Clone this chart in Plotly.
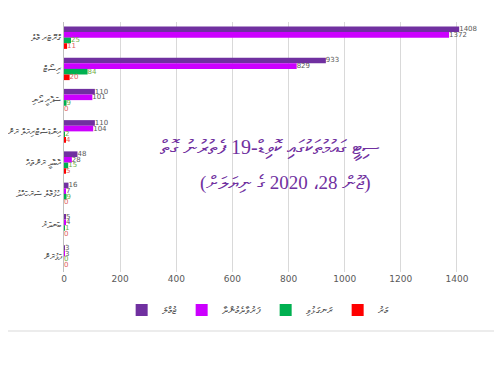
import plotly.graph_objects as go

categories = ["ގްރޭޓަރ މާލެ", "ރިސޯޓް", "ސަފާރީ ދޯނި", "އިންޑަސްޓްރިއަލް ރަށް", "އާބާދީ ރަށްތައް", "ހުޅުމާލެ ސަރަހައްދު", "ބަނދަރު", "ފަޅުރަށް"]
total = [1408, 933, 110, 110, 48, 16, 5, 3]
active = [1372, 829, 101, 104, 28, 7, 4, 3]
recovered = [25, 84, 9, 2, 15, 9, 1, 0]
deaths = [11, 20, 0, 4, 5, 0, 0, 0]
series_names = ["ޖުމްލަ", "ފަރުވާދެމުންދާ", "ރަނގަޅުވި", "މަރު"]
title_line1 = "ސިޓީ ގައުމުތަކުގައި ކޮވިޑް-19 ފެތުރުނު ގޮތް"
title_line2 = "(ޖޫން 28، 2020 ގެ ނިޔަލަށް)"

colors = ["#7030A0", "#CC00FF", "#00B050", "#FF0000"]
text_colors = ["#595959", "#595959", "#70AD47", "#E06060"]
values = [total, active, recovered, deaths]

fig = go.Figure()
for i in [0, 1, 2, 3]:
    fig.add_trace(go.Bar(
        y=categories, x=values[i], orientation="h", name=series_names[i],
        marker=dict(color=colors[i], line=dict(width=0)),
        text=[str(v) for v in values[i]], textposition="outside",
        constraintext="none",
        textfont=dict(size=7, color=text_colors[i], family="DejaVu Sans"),
        cliponaxis=False,
    ))

fig.update_layout(
    width=494, height=359,
    margin=dict(l=56, r=17, t=14, b=95, autoexpand=False),
    paper_bgcolor="white", plot_bgcolor="white",
    barmode="group", bargap=0.28, bargroupgap=0,
    showlegend=True,
    legend=dict(orientation="h", traceorder="normal", x=0.46, xanchor="center",
                y=-0.152, yanchor="middle", font=dict(size=10, color="#595959"),
                itemwidth=30),
    xaxis=dict(range=[0, 1500], tickvals=[0, 200, 400, 600, 800, 1000, 1200, 1400],
               showgrid=True, gridcolor="#D9D9D9", gridwidth=1, zeroline=False,
               tickfont=dict(size=9, color="#595959", family="DejaVu Sans"),
               showline=False, ticks="", automargin=False),
    yaxis=dict(autorange="reversed", showgrid=False, showline=True, linecolor="#BFBFBF",
               tickfont=dict(size=9, color="#595959"), ticks="", automargin=False),
    annotations=[
        dict(text=title_line1, x=0.489, y=0.496, xref="paper", yref="paper", showarrow=False,
             font=dict(size=20, color="#7030A0", family="Liberation Serif")),
        dict(text=title_line2, x=0.527, y=0.356, xref="paper", yref="paper", showarrow=False,
             font=dict(size=19, color="#7030A0", family="Liberation Serif")),
    ],
    shapes=[dict(type="line", xref="paper", yref="paper", x0=-56/421, x1=438/421,
                 y0=-0.236, y1=-0.236, line=dict(color="#D9D9D9", width=1))],
)

fig.write_html("out.html")
